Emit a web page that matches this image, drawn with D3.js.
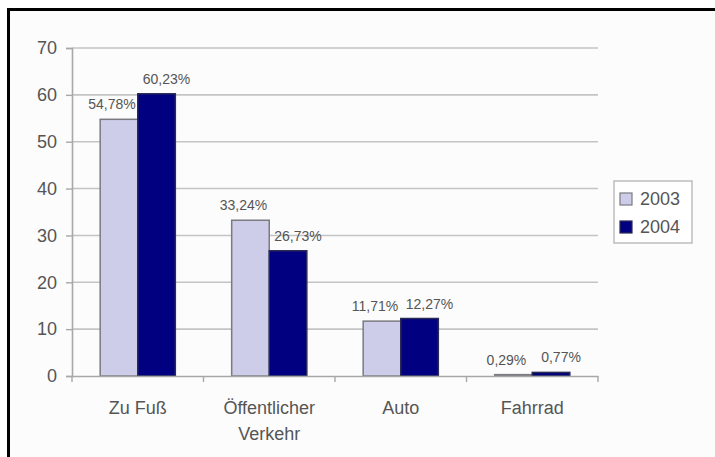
<!DOCTYPE html>
<html>
<head>
<meta charset="utf-8">
<script src="https://cdnjs.cloudflare.com/ajax/libs/d3/7.8.5/d3.min.js"></script>
<style>
  body { margin: 0; background: #fff; }
  text { font-family: "Liberation Sans", Arial, sans-serif; fill: #555; }
</style>
</head>
<body>
<div id="chart"></div>
<script>
var categories = ["Zu Fuß", "Öffentlicher\nVerkehr", "Auto", "Fahrrad"];
var years = ["2003", "2004"];
var values2003 = [54.78, 33.24, 11.71, 0.29];
var values2004 = [60.23, 26.73, 12.27, 0.77];
var labels2003 = ["54,78%", "33,24%", "11,71%", "0,29%"];
var labels2004 = ["60,23%", "26,73%", "12,27%", "0,77%"];
var yTicks = [0, 10, 20, 30, 40, 50, 60, 70];

var colors = { "2003": "#cdcde9", "2004": "#000080" };
var borders = { "2003": "#7a7a80", "2004": "#2a2a55" };
var labelShift = { "2003": -7, "2004": 10 };

var W = 715, H = 457;
var plot = { left: 72, right: 598, top: 48, bottom: 376 };

var svg = d3.select("#chart").append("svg")
    .attr("width", W)
    .attr("height", H);

// outer frame (runs off the right and bottom edge)
svg.append("rect")
    .attr("x", 8.5).attr("y", 9.5)
    .attr("width", 800).attr("height", 600)
    .attr("fill", "#fcfcfc")
    .attr("stroke", "#000")
    .attr("stroke-width", 3);

var x0 = d3.scaleBand().domain(categories).range([plot.left, plot.right]);
var barW = x0.bandwidth() / 3.5;
var x1 = d3.scaleBand().domain(years)
    .range([x0.bandwidth() / 2 - barW, x0.bandwidth() / 2 + barW]);
var y = d3.scaleLinear().domain([0, 70]).range([plot.bottom, plot.top]);

// gridlines
svg.append("g")
  .selectAll("line")
  .data(yTicks.slice(1))
  .enter().append("line")
    .attr("x1", plot.left).attr("x2", plot.right)
    .attr("y1", function(d) { return y(d); })
    .attr("y2", function(d) { return y(d); })
    .attr("stroke", "#c4c4c4")
    .attr("stroke-width", 1.6);

// y axis
var yAxis = d3.axisLeft(y).tickValues(yTicks).tickSize(6).tickPadding(9)
    .tickFormat(d3.format("d"));
var gy = svg.append("g")
    .attr("transform", "translate(" + plot.left + ",0)")
    .call(yAxis);
gy.select(".domain").attr("stroke", "#a8a8a8").attr("stroke-width", 1.6);
gy.selectAll(".tick line").attr("stroke", "#a8a8a8").attr("stroke-width", 1.4);
gy.selectAll(".tick text")
    .style("font-size", "18px")
    .style("font-family", "Liberation Sans, Arial, sans-serif")
    .attr("fill", "#5a5a5a");

// bars
var data = categories.map(function(c, i) {
    return {
        cat: c,
        vals: [
            { year: "2003", value: values2003[i], label: labels2003[i] },
            { year: "2004", value: values2004[i], label: labels2004[i] }
        ]
    };
});

var groups = svg.selectAll(".grp")
    .data(data)
    .enter().append("g")
    .attr("class", "grp")
    .attr("transform", function(d) { return "translate(" + x0(d.cat) + ",0)"; });

groups.selectAll("rect")
    .data(function(d) { return d.vals; })
    .enter().append("rect")
    .attr("x", function(d) { return x1(d.year); })
    .attr("width", x1.bandwidth())
    .attr("y", function(d) { return y(d.value); })
    .attr("height", function(d) { return y(0) - y(d.value); })
    .attr("fill", function(d) { return colors[d.year]; })
    .attr("stroke", function(d) { return borders[d.year]; })
    .attr("stroke-width", 1.5);

groups.selectAll(".lbl")
    .data(function(d) { return d.vals; })
    .enter().append("text")
    .attr("class", "lbl")
    .attr("x", function(d) { return x1(d.year) + x1.bandwidth() / 2 + labelShift[d.year]; })
    .attr("y", function(d) { return y(d.value) - 10; })
    .attr("text-anchor", "middle")
    .style("font-size", "14px")
    .text(function(d) { return d.label; });

// x axis
var xAxis = d3.axisBottom(x0).tickSize(0).tickFormat("");
var gx = svg.append("g")
    .attr("transform", "translate(0," + plot.bottom + ")")
    .call(xAxis);
gx.select(".domain").attr("stroke", "#a8a8a8").attr("stroke-width", 1.6);
gx.selectAll(".tick").remove();

// boundary tick marks between categories
var bounds = categories.map(function(c) { return x0(c); }).concat([plot.right]);
gx.selectAll(".btick")
    .data(bounds)
    .enter().append("line")
    .attr("class", "btick")
    .attr("x1", function(d) { return d; }).attr("x2", function(d) { return d; })
    .attr("y1", 0).attr("y2", 6)
    .attr("stroke", "#a8a8a8")
    .attr("stroke-width", 1.4);

var catText = svg.selectAll(".cat")
    .data(categories)
    .enter().append("text")
    .attr("class", "cat")
    .attr("text-anchor", "middle")
    .attr("x", function(d) { return x0(d) + x0.bandwidth() / 2; })
    .attr("y", 414)
    .style("font-size", "18px");
catText.selectAll("tspan")
    .data(function(d) { return d.split("\n"); })
    .enter().append("tspan")
    .attr("x", function() { return d3.select(this.parentNode).attr("x"); })
    .attr("dy", function(d, i) { return i === 0 ? 0 : 26; })
    .text(function(d) { return d; });

// legend
var legend = svg.append("g").attr("transform", "translate(614,181)");
legend.append("rect")
    .attr("width", 78).attr("height", 62)
    .attr("fill", "#fff")
    .attr("stroke", "#bdbdbd")
    .attr("stroke-width", 1.5);
var items = legend.selectAll(".item")
    .data(years)
    .enter().append("g")
    .attr("class", "item")
    .attr("transform", function(d, i) { return "translate(6," + (12 + i * 28) + ")"; });
items.append("rect")
    .attr("width", 12).attr("height", 12)
    .attr("fill", function(d) { return colors[d]; })
    .attr("stroke", function(d) { return borders[d]; })
    .attr("stroke-width", 1.2);
items.append("text")
    .attr("x", 20)
    .attr("y", 12)
    .style("font-size", "18px")
    .text(function(d) { return d; });
</script>
</body>
</html>
